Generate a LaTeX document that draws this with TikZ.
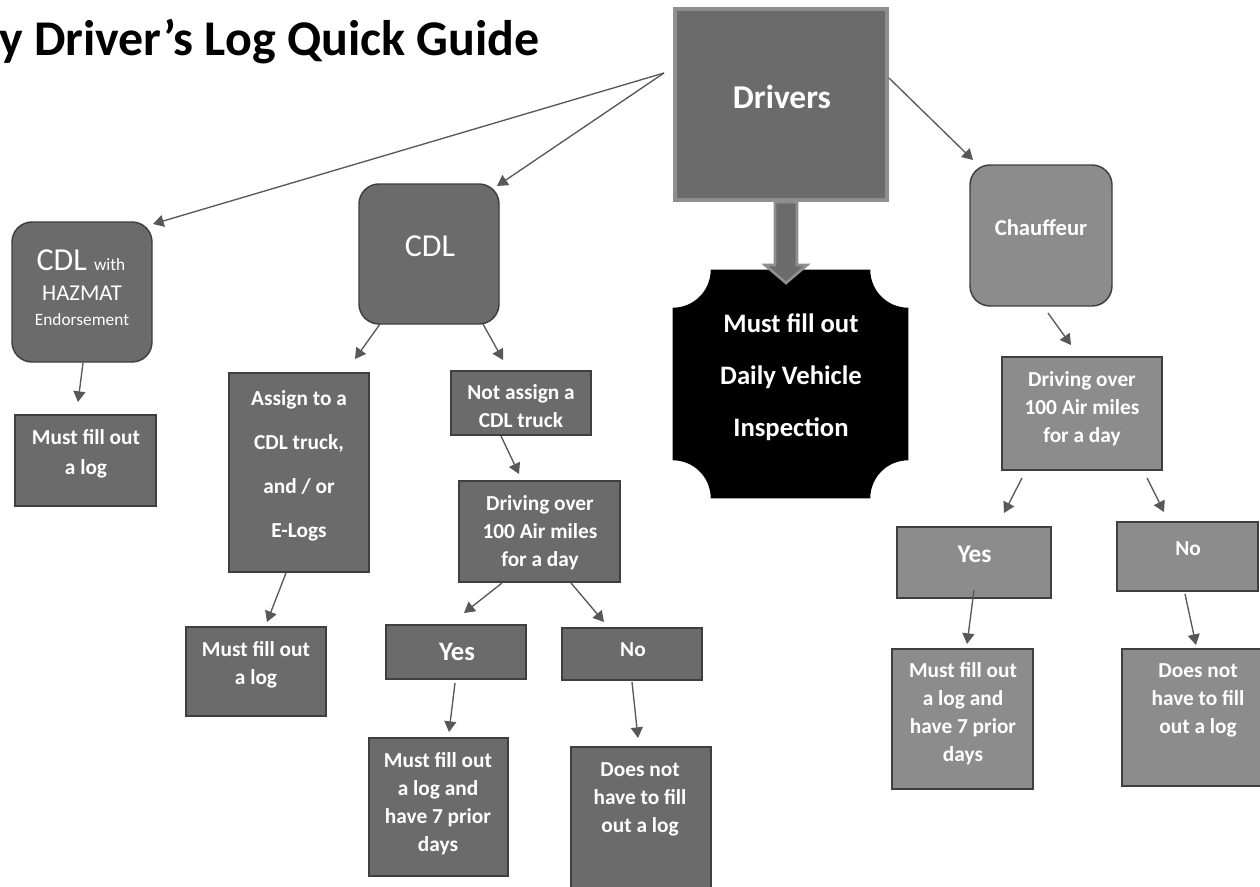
\documentclass[tikz,border=0pt]{standalone}
\usepackage{fontspec}
\setmainfont{Carlito}
\usetikzlibrary{arrows.meta,calc}
\definecolor{boxdark}{HTML}{6B6B6B}
\definecolor{boxlight}{HTML}{8C8C8C}
\definecolor{boxline}{HTML}{3F3F3F}
\definecolor{drvborder}{HTML}{8E8E8E}
\definecolor{linkgray}{HTML}{585858}
\newcommand\pxl[1]{#1*0.75pt}
\begin{document}
\begin{tikzpicture}[x=0.75pt,y=-0.75pt,
  box/.style={draw=boxline, line width=1.1pt, inner sep=0pt},
  darkbox/.style={box, fill=boxdark},
  lightbox/.style={box, fill=boxlight},
  roundbox/.style={rounded corners=15pt},
  txt/.style={text=white, align=center, inner sep=0pt, font=\bfseries\fontsize{16}{21}\selectfont},
  regtxt/.style={text=white, inner sep=0pt},
  link/.style={draw=linkgray, line width=1pt, -{Triangle[length=8pt,width=9pt]}},
  fat/.style={fill=boxdark, draw=drvborder, line width=2pt},
]
\useasboundingbox (0,0) rectangle (1260,886);
\fill[white] (0,0) rectangle (1260,886);

% heading
\node[anchor=base east, inner sep=0pt, font=\bfseries\fontsize{37.5}{45}\selectfont] (title) at (540,55) {y Driver’s Log Quick Guide};

% top box
\node[draw=drvborder, line width=3pt, fill=boxdark, inner sep=0pt,
      minimum width=\pxl{212}, minimum height=\pxl{191}] (drivers) at (781,104.5) {};
\node[txt, font=\bfseries\fontsize{25}{30}\selectfont] (drivers-t) at (782,97) {Drivers};

% inspection plaque
\node[inner sep=0pt, minimum width=\pxl{235}, minimum height=\pxl{228}] (inspect) at (790.5,384) {};
\fill[black] ([xshift=28.5pt]inspect.north west) -- ([xshift=-28.5pt]inspect.north east)
  arc[start angle=180, end angle=270, radius=28.5pt]
  -- ([yshift=28.5pt]inspect.south east) arc[start angle=90, end angle=180, radius=28.5pt]
  -- ([xshift=28.5pt]inspect.south west) arc[start angle=0, end angle=90, radius=28.5pt]
  -- ([yshift=-28.5pt]inspect.north west) arc[start angle=270, end angle=360, radius=28.5pt]
  -- cycle;
\node[txt, font=\bfseries\fontsize{20}{39}\selectfont] (inspect-t) at (791,377) {Must fill out\\Daily Vehicle\\Inspection};

% block arrow into the plaque
\coordinate (bigtip) at (786,283);
\draw[fat] ($(drivers.south)+(-6,0)$) -- ($(drivers.south)+(16,0)$) -- ($(drivers.south)+(16,63)$)
  -- ($(drivers.south)+(26,63)$) -- (bigtip) -- ($(drivers.south)+(-16,63)$)
  -- ($(drivers.south)+(-6,63)$) -- cycle;

% ---- left branch: CDL with HAZMAT
\node[darkbox, roundbox, minimum width=\pxl{140}, minimum height=\pxl{140}] (hazmat) at (82,292) {};
\node[regtxt] (hazmat-t1) at (81,260) {\fontsize{24}{28}\selectfont CDL \fontsize{13}{16}\selectfont with};
\node[regtxt, font=\fontsize{17}{20}\selectfont] (hazmat-t2) at (82,293) {HAZMAT};
\node[regtxt, font=\fontsize{13}{16}\selectfont] (hazmat-t3) at (82,320) {Endorsement};

\node[darkbox, minimum width=\pxl{141}, minimum height=\pxl{91}] (hazlog) at (85.5,460.5) {};
\node[txt, font=\bfseries\fontsize{16}{22.5}\selectfont] (hazlog-t) at (86,454) {Must fill out\\a log};

% ---- middle branch: CDL
\node[darkbox, roundbox, minimum width=\pxl{140}, minimum height=\pxl{140}] (cdl) at (429,254) {};
\node[regtxt, font=\fontsize{24}{28}\selectfont] (cdl-t) at (430,246) {CDL};

\node[darkbox, minimum width=\pxl{140}, minimum height=\pxl{199}] (assign) at (299,472.5) {};
\node[txt, font=\bfseries\fontsize{16}{33}\selectfont] (assign-t) at (299,466) {Assign to a\\CDL truck,\\and / or\\E-Logs};

\node[darkbox, minimum width=\pxl{140}, minimum height=\pxl{64}] (notassign) at (521,403) {};
\node[txt, font=\bfseries\fontsize{16}{20.5}\selectfont] (notassign-t) at (521,406) {Not assign a\\CDL truck};

\node[darkbox, minimum width=\pxl{140}, minimum height=\pxl{89}] (assignlog) at (256,671.5) {};
\node[txt] (assignlog-t) at (256,665) {Must fill out\\a log};

\node[darkbox, minimum width=\pxl{161}, minimum height=\pxl{101}] (drive1) at (539.5,531.5) {};
\node[txt] (drive1-t) at (540,533) {Driving over\\100 Air miles\\for a day};

\node[darkbox, minimum width=\pxl{140}, minimum height=\pxl{54}] (yes1) at (456,652) {};
\node[txt, font=\bfseries\fontsize{20}{24}\selectfont] (yes1-t) at (457,652) {Yes};

\node[darkbox, minimum width=\pxl{140}, minimum height=\pxl{52}] (no1) at (632,654) {};
\node[txt] (no1-t) at (633,650) {No};

\node[darkbox, minimum width=\pxl{139}, minimum height=\pxl{138}] (must1) at (438.5,807) {};
\node[txt] (must1-t) at (438,803.5) {Must fill out\\a log and\\have 7 prior\\days};

\node[darkbox, minimum width=\pxl{140}, minimum height=\pxl{148}] (not1) at (641,821) {};
\node[txt] (not1-t) at (640,799) {Does not\\have to fill\\out a log};

% ---- right branch: Chauffeur
\node[lightbox, roundbox, minimum width=\pxl{142}, minimum height=\pxl{141}] (chauf) at (1041,235.5) {};
\node[txt, font=\bfseries\fontsize{17}{20}\selectfont] (chauf-t) at (1041,228) {Chauffeur};

\node[lightbox, minimum width=\pxl{160}, minimum height=\pxl{113}] (drive2) at (1082,413.5) {};
\node[txt] (drive2-t) at (1082,409) {Driving over\\100 Air miles\\for a day};

\node[lightbox, minimum width=\pxl{154}, minimum height=\pxl{71}] (yes2) at (974,562.5) {};
\node[txt, font=\bfseries\fontsize{19}{23}\selectfont] (yes2-t) at (974.5,554) {Yes};

\node[lightbox, minimum width=\pxl{141}, minimum height=\pxl{69}] (no2) at (1187.5,556.5) {};
\node[txt] (no2-t) at (1188,548.5) {No};

\node[lightbox, minimum width=\pxl{141}, minimum height=\pxl{140}] (must2) at (962.5,719) {};
\node[txt] (must2-t) at (963,714) {Must fill out\\a log and\\have 7 prior\\days};

\node[lightbox, minimum width=\pxl{152}, minimum height=\pxl{137}] (not2) at (1198,717.5) {};
\node[txt] (not2-t) at (1198,700) {Does not\\have to fill\\out a log};

% ---- connector end points
\coordinate (dl) at (664,73);
\coordinate (dr) at (889,78);
\coordinate (hzE) at (153,224);
\coordinate (cdE) at (497,186);
\coordinate (chE) at (973,160);
\coordinate (hzS) at (83,363);   \coordinate (hlE) at (78,402);
\coordinate (cdS1) at (380,324); \coordinate (asE) at (355,359);
\coordinate (cdS2) at (483,324); \coordinate (naE) at (503,360);
\coordinate (naS) at (501,436);  \coordinate (d1E) at (519,474);
\coordinate (asS) at (286,573);  \coordinate (alE) at (267,622);
\coordinate (d1S1) at (502,583); \coordinate (y1E) at (464,613);
\coordinate (d1S2) at (571,583); \coordinate (n1E) at (604,622);
\coordinate (y1S) at (455,683);  \coordinate (m1E) at (449,732);
\coordinate (n1S) at (632,682);  \coordinate (t1E) at (638,738);
\coordinate (chS) at (1048,313); \coordinate (d2E) at (1071,345);
\coordinate (d2S1) at (1022,478); \coordinate (y2E) at (1004,513);
\coordinate (d2S2) at (1147,478); \coordinate (n2E) at (1164,512);
\coordinate (y2S) at (974,590);  \coordinate (m2E) at (967,644);
\coordinate (n2S) at (1185,594); \coordinate (t2E) at (1196,645);

% ---- connectors
\draw[link] (dl) -- (hzE);
\draw[link] (dl) -- (cdE);
\draw[link] (dr) -- (chE);
\draw[link] (hzS) -- (hlE);
\draw[link] (cdS1) -- (asE);
\draw[link] (cdS2) -- (naE);
\draw[link] (naS) -- (d1E);
\draw[link] (asS) -- (alE);
\draw[link] (d1S1) -- (y1E);
\draw[link] (d1S2) -- (n1E);
\draw[link] (y1S) -- (m1E);
\draw[link] (n1S) -- (t1E);
\draw[link] (chS) -- (d2E);
\draw[link] (d2S1) -- (y2E);
\draw[link] (d2S2) -- (n2E);
\draw[link] (y2S) -- (m2E);
\draw[link] (n2S) -- (t2E);
\end{tikzpicture}
\end{document}
